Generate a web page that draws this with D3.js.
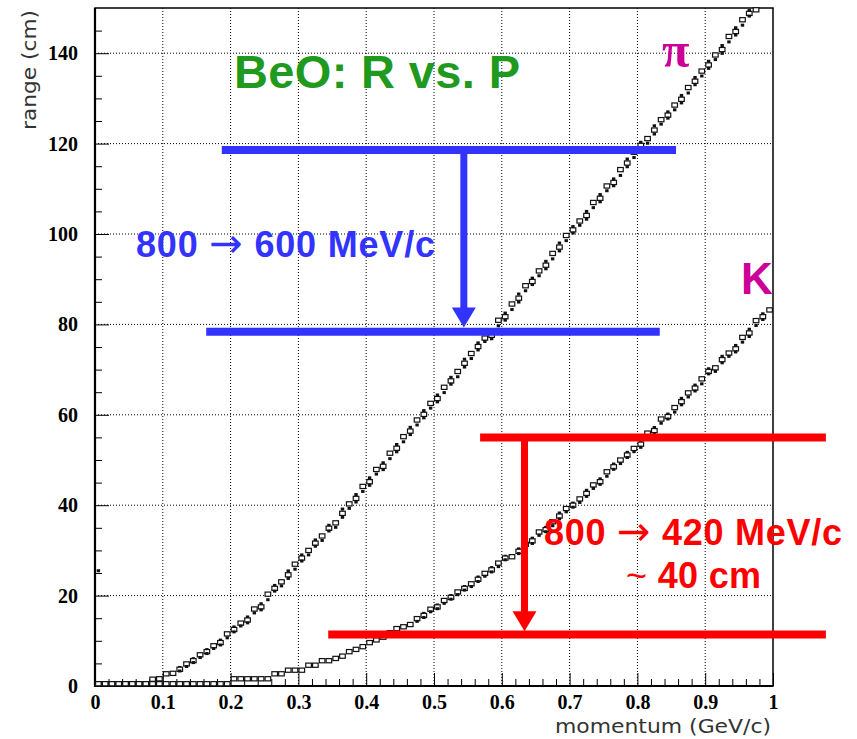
<!DOCTYPE html>
<html>
<head>
<meta charset="utf-8">
<script src="https://cdn.jsdelivr.net/npm/d3@7"></script>
<style>
  body { margin: 0; background: #fff; }
  svg { display: block; }
</style>
</head>
<body>
<div id="chart"></div>
<script>
// pion range vs momentum (bin centres in GeV/c, range in cm)
var piP = [0.005,0.015,0.025,0.035,0.045,0.055,0.065,0.075,0.085,0.095,
  0.105,0.115,0.125,0.135,0.145,0.155,0.165,0.175,0.185,0.195,
  0.205,0.215,0.225,0.235,0.245,0.255,0.265,0.275,0.285,0.295,
  0.305,0.315,0.325,0.335,0.345,0.355,0.365,0.375,0.385,0.395,
  0.405,0.415,0.425,0.435,0.445,0.455,0.465,0.475,0.485,0.495,
  0.505,0.515,0.525,0.535,0.545,0.555,0.565,0.575,0.585,0.595,
  0.605,0.615,0.625,0.635,0.645,0.655,0.665,0.675,0.685,0.695,
  0.705,0.715,0.725,0.735,0.745,0.755,0.765,0.775,0.785,0.795,
  0.805,0.815,0.825,0.835,0.845,0.855,0.865,0.875,0.885,0.895,
  0.905,0.915,0.925,0.935,0.945,0.955,0.965,0.975];
var piR = [0.5,0.5,0.5,0.5,0.5,0.5,0.5,0.5,1.5,1.6,
  2.7,2.8,3.7,4.6,5.6,6.6,7.6,8.6,9.6,11.1,
  12.5,13.6,14.6,16.6,17.5,19.7,21.6,22.6,24.6,26.4,
  28.3,29.5,31.6,32.7,34.9,35.6,38.2,39.8,41.5,43.6,
  45.2,47.4,48.6,50.9,52.6,54.6,56.4,58.3,60.1,62.0,
  63.6,65.5,67.5,69.0,71.4,73.0,75.1,76.6,77.6,80.3,
  81.7,83.9,85.8,88.0,89.5,91.3,93.1,95.1,97.1,99.1,
  100.9,102.4,104.1,106.4,107.9,110.1,111.4,113.6,115.7,117.5,
  119.6,120.6,123.0,124.8,126.3,128.0,129.8,131.8,133.8,135.5,
  137.4,139.1,140.8,143.1,144.8,146.8,148.8,149.6];

// kaon range vs momentum
var kP = [0.005,0.015,0.025,0.035,0.045,0.055,0.065,0.075,0.085,0.095,
  0.105,0.115,0.125,0.135,0.145,0.155,0.165,0.175,0.185,0.195,
  0.205,0.215,0.225,0.235,0.245,0.255,0.265,0.275,0.285,0.295,
  0.305,0.315,0.325,0.335,0.345,0.355,0.365,0.375,0.385,0.395,
  0.405,0.415,0.425,0.435,0.445,0.455,0.465,0.475,0.485,0.495,
  0.505,0.515,0.525,0.535,0.545,0.555,0.565,0.575,0.585,0.595,
  0.605,0.615,0.625,0.635,0.645,0.655,0.665,0.675,0.685,0.695,
  0.705,0.715,0.725,0.735,0.745,0.755,0.765,0.775,0.785,0.795,
  0.805,0.815,0.825,0.835,0.845,0.855,0.865,0.875,0.885,0.895,
  0.905,0.915,0.925,0.935,0.945,0.955,0.965,0.975,0.985,0.995];
var kR = [0.5,0.5,0.5,0.5,0.5,0.5,0.5,0.5,0.5,0.5,
  0.5,0.5,0.5,0.5,0.5,0.5,0.5,0.5,0.5,0.5,
  1.6,1.6,1.6,1.6,1.6,1.6,2.7,2.7,3.5,3.5,
  3.5,4.6,4.6,5.6,5.6,6.1,6.6,7.6,8.1,8.7,
  9.6,10.2,10.8,11.5,12.7,13.1,13.6,14.6,15.6,16.7,
  17.5,18.6,19.6,20.5,21.6,22.3,23.6,24.6,25.7,26.8,
  28.3,28.6,29.8,31.0,32.1,33.7,34.6,35.9,37.6,38.9,
  40.0,41.0,42.6,44.1,45.2,46.9,48.5,49.6,51.1,52.2,
  53.5,55.5,56.5,58.6,59.6,61.1,62.9,64.4,65.9,67.4,
  69.6,70.0,72.2,73.3,74.6,76.6,78.1,80.3,81.7,83.2];

// lone entry at the left edge
var strayP = [0.004];
var strayR = [25.5];

var xTicks = [0, 0.1, 0.2, 0.3, 0.4, 0.5, 0.6, 0.7, 0.8, 0.9, 1];
var yTicks = [0, 20, 40, 60, 80, 100, 120, 140];

var W = 857, H = 739;
var margin = {top: 8, right: 84, bottom: 53, left: 95},
    width = W - margin.left - margin.right,
    height = H - margin.top - margin.bottom;

var blue = "#3333ff", red = "#ff0000", magenta = "#cc0099", green = "#1f9a1f";

var svg = d3.select("#chart").append("svg")
    .attr("width", W)
    .attr("height", H);

var g = svg.append("g")
    .attr("transform", "translate(" + margin.left + "," + margin.top + ")");

var x = d3.scaleLinear().domain([0, 1]).range([0, width]);
var y = d3.scaleLinear().domain([0, 150]).range([height, 0]);

// dotted grid
g.append("g").selectAll("line")
    .data(xTicks.slice(1, -1))
  .enter().append("line")
    .attr("x1", function(d) { return x(d); })
    .attr("x2", function(d) { return x(d); })
    .attr("y1", 0).attr("y2", height)
    .attr("stroke", "#000").attr("stroke-width", 1)
    .attr("stroke-dasharray", "1,2");
g.append("g").selectAll("line")
    .data(yTicks.slice(1))
  .enter().append("line")
    .attr("y1", function(d) { return y(d); })
    .attr("y2", function(d) { return y(d); })
    .attr("x1", 0).attr("x2", width)
    .attr("stroke", "#000").attr("stroke-width", 1)
    .attr("stroke-dasharray", "1,2");

// axes, ticks pointing inward
var xMinor = d3.range(0.02, 1, 0.02).filter(function(v) { return Math.abs(v * 10 - Math.round(v * 10)) > 1e-6; });
var yMinor = d3.range(5, 150, 5).filter(function(v) { return v % 20 !== 0; });

var xAxis = d3.axisBottom(x).tickValues(xTicks).tickSize(-13).tickPadding(9)
    .tickFormat(function(d) { return d === 0 ? "0" : d === 1 ? "1" : d3.format(".1f")(d); });
var yAxis = d3.axisLeft(y).tickValues(yTicks).tickSize(-14).tickPadding(17)
    .tickFormat(d3.format("d"));

g.append("g").attr("class", "x axis")
    .attr("transform", "translate(0," + height + ")")
    .call(xAxis)
    .call(function(a) { a.select(".domain").remove(); });
g.append("g").attr("class", "x minor")
    .attr("transform", "translate(0," + height + ")")
    .call(d3.axisBottom(x).tickValues(xMinor).tickSize(-7).tickFormat(""))
    .call(function(a) { a.select(".domain").remove(); });
g.append("g").attr("class", "y axis")
    .call(yAxis)
    .call(function(a) { a.select(".domain").remove(); });
g.append("g").attr("class", "y minor")
    .call(d3.axisLeft(y).tickValues(yMinor).tickSize(-7).tickFormat(""))
    .call(function(a) { a.select(".domain").remove(); });

g.selectAll(".axis text")
    .attr("font-family", "'Liberation Serif', 'Times New Roman', serif")
    .attr("font-weight", "bold")
    .attr("font-size", 20)
    .attr("fill", "#000");
g.selectAll(".tick line").attr("stroke", "#000").attr("stroke-width", 1);

// frame
g.append("rect")
    .attr("width", width).attr("height", height)
    .attr("fill", "none").attr("stroke", "#000").attr("stroke-width", 1.5);
g.append("path")
    .attr("d", "M0,0V" + height + "H" + width)
    .attr("fill", "none").attr("stroke", "#000").attr("stroke-width", 2.2);

// box-style markers, each bin drawn as a small cluster following the local slope
var plot = g.append("g");
function drawSeries(P, R) {
  P.forEach(function(p, i) {
    var cx = x(p), cy = y(R[i]);
    var lo = y(R[Math.max(i - 1, 0)]), hi = y(R[Math.min(i + 1, R.length - 1)]);
    var ds = Math.abs(lo - hi) / 2;
    var marks = [];
    if (ds < 4) {
      marks.push({dy: 0, open: true});
    } else if (i % 2 === 0) {
      marks.push({dy: -ds * 0.45, open: false}, {dy: 0, open: true}, {dy: ds * 0.42, open: false});
    } else {
      marks.push({dy: -ds * 0.3, open: true}, {dy: ds * 0.3, open: false});
    }
    marks.forEach(function(m) {
      if (cy + m.dy < 1) return;
      if (m.open) {
        plot.append("rect")
            .attr("x", cx - 2.8).attr("y", cy + m.dy - 2.1)
            .attr("width", 5.6).attr("height", 4.2)
            .attr("fill", "#fff").attr("stroke", "#111").attr("stroke-width", 1.2);
      } else {
        plot.append("rect")
            .attr("x", cx - 1.7).attr("y", cy + m.dy - 1.5)
            .attr("width", 3.4).attr("height", 3)
            .attr("fill", "#111");
      }
    });
  });
}
drawSeries(kP, kR);
drawSeries(piP, piR);
plot.selectAll(".stray")
    .data(strayP)
  .enter().append("rect")
    .attr("class", "stray")
    .attr("x", function(d) { return x(d) - 1; })
    .attr("y", function(d, i) { return y(strayR[i]) - 1.5; })
    .attr("width", 3.4).attr("height", 3)
    .attr("fill", "#111");

// annotations
var ann = g.append("g");
function hline(p0, p1, r, col) {
  ann.append("line")
      .attr("x1", x(p0)).attr("x2", x(p1))
      .attr("y1", y(r)).attr("y2", y(r))
      .attr("stroke", col).attr("stroke-width", 8);
}
function downArrow(p, r0, r1, col) {
  var tip = y(r1), head = 20;
  ann.append("line")
      .attr("x1", x(p)).attr("x2", x(p))
      .attr("y1", y(r0)).attr("y2", tip - head + 2)
      .attr("stroke", col).attr("stroke-width", 7);
  ann.append("path")
      .attr("d", "M" + (x(p) - 12) + "," + (tip - head) + "L" + (x(p) + 12) + "," + (tip - head) + "L" + x(p) + "," + tip + "Z")
      .attr("fill", col);
}
hline(0.187, 0.857, 118.6, blue);
hline(0.164, 0.833, 78.4, blue);
downArrow(0.544, 118.6, 79.3, blue);

hline(0.568, 1.078, 55.0, red);
hline(0.344, 1.078, 11.4, red);
downArrow(0.6335, 55.0, 12.1, red);

var sans = "'Liberation Sans', Arial, Helvetica, sans-serif";

svg.append("text")
    .attr("x", 234).attr("y", 88)
    .attr("font-family", sans).attr("font-weight", "bold").attr("font-size", 47)
    .attr("fill", green)
    .attr("textLength", 286).attr("lengthAdjust", "spacing")
    .text("BeO: R vs. P");

function arrowLabel(xp, yp, a, b, len, col) {
  var t = svg.append("text")
      .attr("x", xp).attr("y", yp)
      .attr("font-family", sans).attr("font-weight", "bold").attr("font-size", 36)
      .attr("fill", col)
      .attr("textLength", len).attr("lengthAdjust", "spacing");
  t.append("tspan").text(a + " ");
  t.append("tspan").attr("font-weight", "normal").attr("font-family", "'DejaVu Sans', sans-serif").attr("font-size", 40).text("\u2192");
  t.append("tspan").text(" " + b);
  return t;
}
arrowLabel(136, 257, "800", "600 MeV/c", 299, blue);
arrowLabel(544, 545, "800", "420 MeV/c", 298, red);

var t2 = svg.append("text")
    .attr("x", 626).attr("y", 588)
    .attr("font-family", sans).attr("font-weight", "bold").attr("font-size", 36)
    .attr("fill", red)
    .attr("textLength", 135).attr("lengthAdjust", "spacing");
t2.append("tspan").attr("font-weight", "normal").text("~");
t2.append("tspan").text(" 40 cm");

svg.append("text")
    .attr("x", 662).attr("y", 67)
    .attr("font-family", "'Liberation Serif', 'Times New Roman', serif").attr("font-weight", "bold")
    .attr("font-size", 50)
    .attr("fill", magenta)
    .text("\u03c0");

svg.append("text")
    .attr("x", 741).attr("y", 294)
    .attr("font-family", sans).attr("font-weight", "bold").attr("font-size", 44)
    .attr("fill", magenta)
    .text("K");

// axis titles
svg.append("text")
    .attr("x", 771).attr("y", 733)
    .attr("text-anchor", "end")
    .attr("font-family", "'DejaVu Sans', sans-serif").attr("font-size", 20)
    .attr("fill", "#333")
    .attr("textLength", 216).attr("lengthAdjust", "spacingAndGlyphs")
    .text("momentum (GeV/c)");

svg.append("text")
    .attr("transform", "translate(36,10) rotate(-90)")
    .attr("text-anchor", "end")
    .attr("font-family", "'DejaVu Sans', sans-serif").attr("font-size", 20)
    .attr("fill", "#333")
    .attr("textLength", 120).attr("lengthAdjust", "spacingAndGlyphs")
    .text("range (cm)");
</script>
</body>
</html>
